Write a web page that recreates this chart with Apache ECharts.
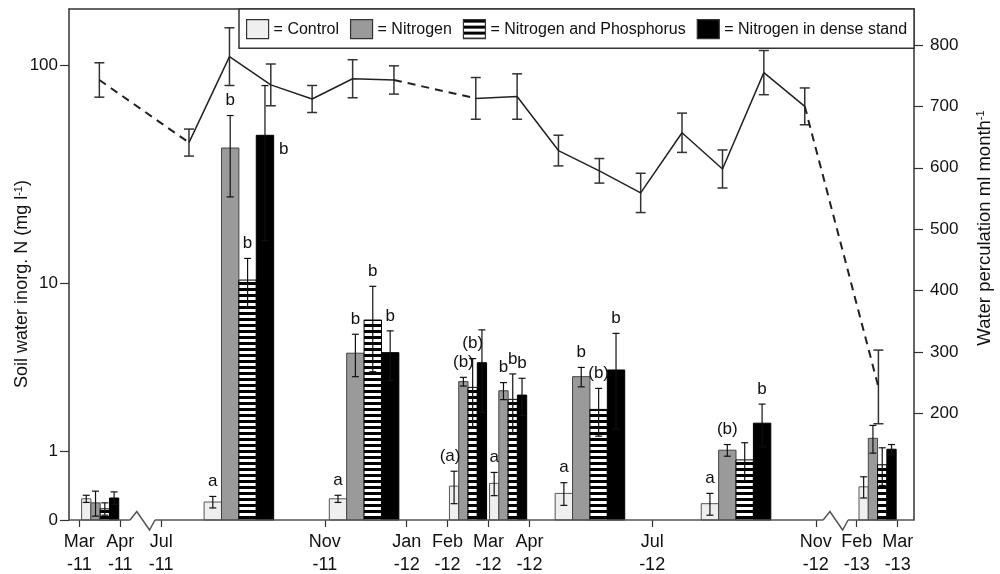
<!DOCTYPE html>
<html>
<head>
<meta charset="utf-8">
<title>Soil water inorganic N and water perculation</title>
<script src="https://cdn.jsdelivr.net/npm/echarts@6.0.0/dist/echarts.min.js"></script>
<style>
  html, body { margin: 0; padding: 0; background: #fff; }
  #main { width: 1000px; height: 574px; }
</style>
</head>
<body>
<div id="main"></div>
<script>
// x is in "plot months": Mar-11 = 0 ... Mar-13 = 20, the two breaks squeezed out
const tickPos = [0, 1, 2, 6, 8, 9, 10, 11, 14, 18, 19, 20]
const tickLabels = ['Mar\n-11', 'Apr\n-11', 'Jul\n-11', 'Nov\n-11', 'Jan\n-12', 'Feb\n-12',
  'Mar\n-12', 'Apr\n-12', 'Jul\n-12', 'Nov\n-12', 'Feb\n-13', 'Mar\n-13']
const axisBreaks = [[1.24, 1.85], [18.18, 18.79]]

// soil water inorganic N (mg l-1), one value per sampling group
const treatments = ['Control', 'Nitrogen', 'Nitrogen and Phosphorus', 'Nitrogen in dense stand']
const groupX = [0.51, 3.90, 6.96, 9.50, 10.48, 12.48, 16.05, 19.51]
const control = [0.24, 0.20, 0.24, 0.41, 0.45, 0.31, 0.18, 0.40]
const controlSE = [0.045, 0.07, 0.045, 0.23, 0.17, 0.15, 0.13, 0.15]
const nitrogen = [0.19, 42.5, 4.43, 3.07, 2.71, 3.28, 1.03, 1.29]
const nitrogenSE = [0.15, 17, 1.15, 0.18, 0.32, 0.42, 0.12, 0.32]
const nitroPhos = [0.12, 10.4, 6.6, 2.84, 2.40, 2.07, 0.84, 0.75]
const nitroPhosSE = [0.07, 2.8, 3.1, 1.3, 1.0, 0.73, 0.35, 0.33]
const dense = [0.25, 48.5, 4.46, 3.93, 2.55, 3.58, 1.67, 1.05]
const denseSE = [0.08, 32.5, 1.35, 1.95, 0.66, 2.06, 0.57, 0.10]
const controlLetters = ['', 'a', 'a', '(a)', 'a', 'a', 'a', '']
const nitrogenLetters = ['', 'b', 'b', '(b)', 'b', 'b', '(b)', '']
const nitroPhosLetters = ['', 'b', 'b', '(b)', 'b', '(b)', '', '']
const denseLetters = ['', 'b', 'b', '', 'b', 'b', 'b', '']

// water perculation (ml month-1)
const percX = [0.49, 2.68, 3.67, 4.68, 5.69, 6.68, 7.69, 9.69, 10.70, 11.71, 12.71, 13.72, 14.73, 15.72, 16.73, 17.73, 19.53]
const percVal = [743, 641, 781, 735, 712, 745, 743, 713, 716, 628, 595, 559, 657, 598, 755, 700, 243]
const percErr = [28, 22, 47, 34, 22, 31, 23, 34, 37, 25, 20, 32, 32, 31, 36, 30, 60]
const dashedAfter = [0, 6, 15] // segment i -> i+1 is dashed

const values = [control, nitrogen, nitroPhos, dense]
const ses = [controlSE, nitrogenSE, nitroPhosSE, denseSE]
const letters = [controlLetters, nitrogenLetters, nitroPhosLetters, denseLetters]

// layout / style
const FONT = 'Liberation Sans, Arial, sans-serif'
const narrowGroups = [0, 3, 4, 7]
const labelBeside = { '3-1': true } // treatment-group whose letter sits right of the bar
const labelShift = { '0-3': -4 } // small nudges (px) where letters crowd
const tf = v => Math.log10(v + 1)

const stripe = document.createElement('canvas')
stripe.width = 6
stripe.height = 6
const sctx = stripe.getContext('2d')
sctx.fillStyle = '#fff'
sctx.fillRect(0, 0, 6, 6)
sctx.fillStyle = '#000'
sctx.fillRect(0, 0, 6, 3)
const stripeFill = { image: stripe, repeat: 'repeat' }

const barStyles = [
  { fill: '#efefef', stroke: '#555', lineWidth: 1 },
  { fill: '#9a9a9a', stroke: '#444', lineWidth: 1 },
  { fill: stripeFill, stroke: '#000', lineWidth: 1 },
  { fill: '#000', stroke: '#000', lineWidth: 1 }
]
const errStyle = { stroke: '#111', lineWidth: 1.2 }

// pixel geometry of one bar, through the chart's own axes
function barGeom (k, g, api) {
  const bw = narrowGroups.includes(g) ? 0.227 : 0.425
  const cx = groupX[g] + (k - 1.5) * bw
  const v = values[k][g]
  const se = ses[k][g]
  return {
    left: api.coord([cx - bw / 2, 0]),
    right: api.coord([cx + bw / 2, 0]),
    top: api.coord([cx, tf(v)]),
    hi: api.coord([cx, tf(v + se)]),
    lo: api.coord([cx, tf(Math.max(v - se, 0))])
  }
}

function barRenderer (k) {
  return function (params, api) {
    const b = barGeom(k, api.value(3), api)
    const x = b.top[0]
    return {
      type: 'group',
      children: [
        { type: 'rect', shape: { x: b.left[0], y: b.top[1], width: b.right[0] - b.left[0], height: b.left[1] - b.top[1] }, style: barStyles[k] },
        { type: 'line', shape: { x1: x, y1: b.hi[1], x2: x, y2: b.lo[1] }, style: errStyle },
        { type: 'line', shape: { x1: x - 3.5, y1: b.hi[1], x2: x + 3.5, y2: b.hi[1] }, style: errStyle },
        { type: 'line', shape: { x1: x - 3.5, y1: b.lo[1], x2: x + 3.5, y2: b.lo[1] }, style: errStyle }
      ]
    }
  }
}

const series = []
treatments.forEach((name, k) => {
  series.push({
    name,
    type: 'custom',
    xAxisIndex: 0,
    yAxisIndex: 0,
    clip: false,
    data: groupX.map((gx, g) => [gx, values[k][g], ses[k][g], g]),
    renderItem: barRenderer(k)
  })
})

// significance letters, drawn after all bars
const letterData = []
letters.forEach((row, k) => row.forEach((t, g) => { if (t) letterData.push([groupX[g], values[k][g], k, g]) }))
series.push({
  name: 'letters',
  type: 'custom',
  xAxisIndex: 0,
  yAxisIndex: 0,
  clip: false,
  silent: true,
  data: letterData,
  renderItem: function (params, api) {
    const k = api.value(2)
    const g = api.value(3)
    const b = barGeom(k, g, api)
    const key = k + '-' + g
    const beside = labelBeside[key]
    return {
      type: 'text',
      x: (beside ? b.right[0] + 10 : b.top[0]) + (labelShift[key] || 0),
      y: beside ? b.top[1] + 14 : b.hi[1] - 15,
      style: { text: letters[k][g], fill: '#111', fontSize: 17, fontFamily: FONT, align: 'center', verticalAlign: 'middle' }
    }
  }
})

// baseline with the two zigzag breaks
series.push({
  name: 'baseline',
  type: 'custom',
  xAxisIndex: 0,
  yAxisIndex: 0,
  clip: false,
  silent: true,
  data: [[0, 0]],
  renderItem: function (params, api) {
    const style = { stroke: '#555', lineWidth: 1.5, fill: null }
    const xs = [-0.252]
    axisBreaks.forEach(b => xs.push(b[0], b[1]))
    xs.push(20.40)
    const children = []
    for (let i = 0; i < xs.length; i += 2) {
      const a = api.coord([xs[i], 0])
      const b = api.coord([xs[i + 1], 0])
      children.push({ type: 'line', shape: { x1: a[0], y1: a[1], x2: b[0], y2: b[1] }, style })
    }
    axisBreaks.forEach(br => {
      const a = api.coord([br[0], 0])
      const b = api.coord([br[1], 0])
      const w = b[0] - a[0]
      children.push({
        type: 'polyline',
        shape: { points: [[a[0], a[1]], [a[0] + w * 0.27, a[1] - 8.5], [a[0] + w * 0.78, a[1] + 10], [b[0], b[1]]] },
        style
      })
    })
    return { type: 'group', children }
  }
})

// perculation line: solid runs and dashed gaps
const solidRuns = []
let run = [0]
for (let i = 1; i < percX.length; i++) {
  if (dashedAfter.includes(i - 1)) { solidRuns.push(run); run = [i] } else run.push(i)
}
solidRuns.push(run)
solidRuns.filter(r => r.length > 1).forEach((r, n) => {
  series.push({
    name: 'perc' + n,
    type: 'line',
    xAxisIndex: 0,
    yAxisIndex: 1,
    symbol: 'none',
    lineStyle: { color: '#222', width: 1.5 },
    data: r.map(i => [percX[i], percVal[i]])
  })
})
dashedAfter.forEach((d, n) => {
  series.push({
    name: 'percDash' + n,
    type: 'line',
    xAxisIndex: 0,
    yAxisIndex: 1,
    symbol: 'none',
    lineStyle: { color: '#222', width: 2, type: [8, 6] },
    data: [[percX[d], percVal[d]], [percX[d + 1], percVal[d + 1]]]
  })
})
series.push({
  name: 'percErr',
  type: 'custom',
  xAxisIndex: 0,
  yAxisIndex: 1,
  clip: false,
  data: percX.map((x, i) => [x, percVal[i], percErr[i]]),
  renderItem: function (params, api) {
    const x = api.value(0)
    const hi = api.coord([x, api.value(1) + api.value(2)])
    const lo = api.coord([x, api.value(1) - api.value(2)])
    const st = { stroke: '#333', lineWidth: 1.5 }
    return {
      type: 'group',
      children: [
        { type: 'line', shape: { x1: hi[0], y1: hi[1], x2: lo[0], y2: lo[1] }, style: st },
        { type: 'line', shape: { x1: hi[0] - 5, y1: hi[1], x2: hi[0] + 5, y2: hi[1] }, style: st },
        { type: 'line', shape: { x1: lo[0] - 5, y1: lo[1], x2: lo[0] + 5, y2: lo[1] }, style: st }
      ]
    }
  }
})

const leftTicks = [0, tf(1), tf(10), tf(100)]
const rightTicks = [200, 300, 400, 500, 600, 700, 800]

const option = {
  animation: false,
  backgroundColor: '#fff',
  grid: { left: 69, right: 86, top: 9, bottom: 54, outerBoundsMode: 'none' },
  legend: {
    left: 239,
    top: 9,
    padding: [10, 7, 9, 7],
    itemWidth: 22,
    itemHeight: 19,
    itemGap: 11,
    borderColor: '#333',
    borderWidth: 1.5,
    backgroundColor: '#fff',
    selectedMode: false,
    formatter: name => '= ' + name,
    textStyle: { fontSize: 16, color: '#111', fontFamily: FONT },
    data: treatments.map((name, k) => ({
      name,
      icon: 'rect',
      itemStyle: { color: k === 2 ? stripeFill : barStyles[k].fill, borderColor: '#333', borderWidth: 1.2 }
    }))
  },
  xAxis: [
    {
      type: 'value',
      min: -0.252,
      max: 20.40,
      position: 'bottom',
      axisLine: { show: false, onZero: false },
      splitLine: { show: false },
      axisTick: { customValues: tickPos, length: 7, lineStyle: { color: '#333', width: 1.2 } },
      axisLabel: {
        customValues: tickPos,
        formatter: v => tickLabels[tickPos.indexOf(v)],
        fontSize: 18,
        lineHeight: 23,
        margin: 11,
        color: '#111',
        fontFamily: FONT
      }
    },
    {
      type: 'value',
      min: -0.252,
      max: 20.40,
      position: 'top',
      axisLine: { show: true, onZero: false, lineStyle: { color: '#333', width: 1.5 } },
      axisTick: { show: false },
      axisLabel: { show: false },
      splitLine: { show: false }
    }
  ],
  yAxis: [
    {
      type: 'value',
      min: 0,
      max: 2.251,
      position: 'left',
      axisLine: { show: true, onZero: false, lineStyle: { color: '#333', width: 1.5 } },
      splitLine: { show: false },
      axisTick: { show: true, customValues: leftTicks, length: 9, lineStyle: { color: '#333', width: 1.2 } },
      axisLabel: {
        customValues: leftTicks,
        formatter: v => String(Math.round(Math.pow(10, v) - 1)),
        fontSize: 17,
        margin: 11,
        color: '#111',
        fontFamily: FONT
      }
    },
    {
      type: 'value',
      min: 26.2,
      max: 858.6,
      position: 'right',
      axisLine: { show: true, onZero: false, lineStyle: { color: '#333', width: 1.5 } },
      splitLine: { show: false },
      axisTick: { show: true, customValues: rightTicks, length: 9, lineStyle: { color: '#333', width: 1.2 } },
      axisLabel: {
        customValues: rightTicks,
        fontSize: 17,
        margin: 16,
        color: '#111',
        fontFamily: FONT
      }
    }
  ],
  graphic: [
    {
      type: 'text',
      x: 22,
      y: 284,
      rotation: Math.PI / 2,
      style: {
        text: 'Soil water inorg. N (mg l{s|-1})',
        fill: '#111',
        fontSize: 18,
        fontFamily: FONT,
        align: 'center',
        verticalAlign: 'middle',
        rich: { s: { fontSize: 11, fontFamily: FONT, verticalAlign: 'top', fill: '#111' } }
      }
    },
    {
      type: 'text',
      x: 985,
      y: 228,
      rotation: Math.PI / 2,
      style: {
        text: 'Water perculation ml month{s|-1}',
        fill: '#111',
        fontSize: 18.5,
        fontFamily: FONT,
        align: 'center',
        verticalAlign: 'middle',
        rich: { s: { fontSize: 11, fontFamily: FONT, verticalAlign: 'top', fill: '#111' } }
      }
    }
  ],
  series
}

const chart = echarts.init(document.getElementById('main'))
chart.setOption(option)
</script>
</body>
</html>
